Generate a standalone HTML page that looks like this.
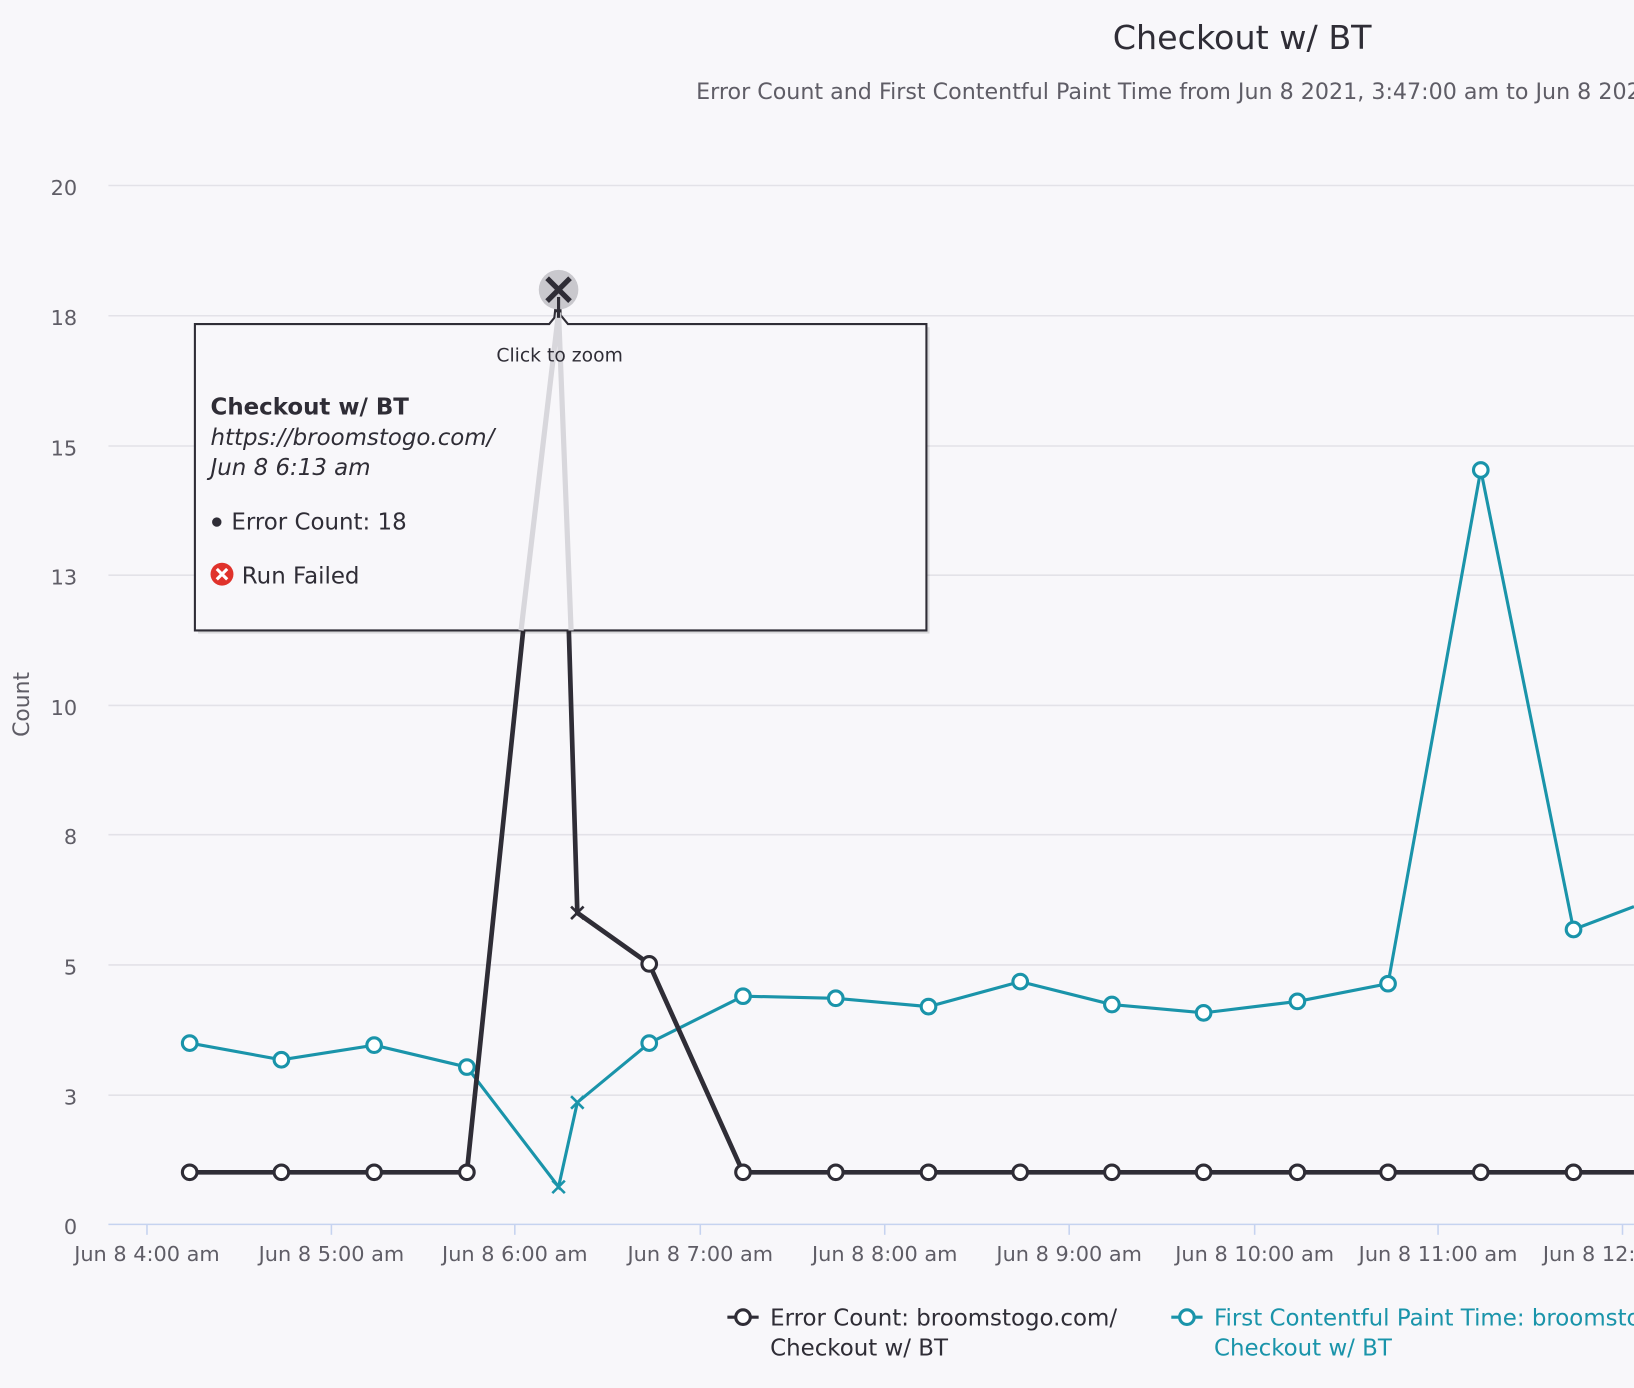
<!DOCTYPE html>
<html><head><meta charset="utf-8"><style>
html,body{margin:0;padding:0;background:#f8f7fa;width:1634px;height:1388px;overflow:hidden}
svg{display:block;font-family:"DejaVu Sans","Liberation Sans",sans-serif}
</style></head><body>
<svg width="1634" height="1388" viewBox="0 0 1568 1332" xmlns="http://www.w3.org/2000/svg">
<rect width="1568" height="1332" fill="#f8f7fa"/>
<text x="1192" y="47" font-size="32" fill="#2f2d36" text-anchor="middle">Checkout w/ BT</text>
<text x="668" y="95" font-size="21" fill="#5f5d66" textLength="920" lengthAdjust="spacingAndGlyphs">Error Count and First Contentful Paint Time from Jun 8 2021, 3:47:00 am to Jun 8 2021</text>
<g stroke="#e3e2e8" stroke-width="1.5">
<line x1="104" y1="178" x2="1568" y2="178"/><line x1="104" y1="303" x2="1568" y2="303"/>
<line x1="104" y1="428" x2="1568" y2="428"/><line x1="104" y1="552" x2="1568" y2="552"/>
<line x1="104" y1="677" x2="1568" y2="677"/><line x1="104" y1="801" x2="1568" y2="801"/>
<line x1="104" y1="926" x2="1568" y2="926"/><line x1="104" y1="1051" x2="1568" y2="1051"/>
</g>
<line x1="104" y1="1175" x2="1568" y2="1175" stroke="#c6d3f0" stroke-width="1.5"/>
<g stroke="#c6d3f0" stroke-width="1.5">
<line x1="141" y1="1175" x2="141" y2="1185"/><line x1="318" y1="1175" x2="318" y2="1185"/>
<line x1="494" y1="1175" x2="494" y2="1185"/><line x1="672" y1="1175" x2="672" y2="1185"/>
<line x1="849" y1="1175" x2="849" y2="1185"/><line x1="1026" y1="1175" x2="1026" y2="1185"/>
<line x1="1204" y1="1175" x2="1204" y2="1185"/><line x1="1380" y1="1175" x2="1380" y2="1185"/>
<line x1="1557" y1="1175" x2="1557" y2="1185"/>
</g>
<g font-size="20" fill="#5f5d66" text-anchor="end">
<text x="74" y="187">20</text><text x="74" y="312">18</text><text x="74" y="437">15</text>
<text x="74" y="561">13</text><text x="74" y="686">10</text><text x="74" y="810">8</text>
<text x="74" y="935">5</text><text x="74" y="1060">3</text><text x="74" y="1184">0</text>
</g>
<text transform="translate(28,676) rotate(-90)" font-size="21" fill="#5f5d66" text-anchor="middle">Count</text>
<g font-size="20" fill="#5f5d66" text-anchor="middle">
<text x="141" y="1210">Jun 8 4:00 am</text><text x="318" y="1210">Jun 8 5:00 am</text>
<text x="494" y="1210">Jun 8 6:00 am</text><text x="672" y="1210">Jun 8 7:00 am</text>
<text x="849" y="1210">Jun 8 8:00 am</text><text x="1026" y="1210">Jun 8 9:00 am</text>
<text x="1204" y="1210">Jun 8 10:00 am</text><text x="1380" y="1210">Jun 8 11:00 am</text>
<text x="1557" y="1210">Jun 8 12:00 pm</text>
</g>
<polyline fill="none" stroke="#1a94aa" stroke-width="3" points="182,1001 270,1017 359,1003 448,1024 536,1139 554,1058 623,1001 713,956 802,958 891,966 979,942 1067,964 1155,972 1245,961 1332,944 1421,451 1510,892 1568,870"/>
<g fill="#fff" stroke="#1a94aa" stroke-width="3">
<circle cx="182" cy="1001" r="7"/><circle cx="270" cy="1017" r="7"/><circle cx="359" cy="1003" r="7"/><circle cx="448" cy="1024" r="7"/>
<circle cx="623" cy="1001" r="7"/><circle cx="713" cy="956" r="7"/><circle cx="802" cy="958" r="7"/><circle cx="891" cy="966" r="7"/>
<circle cx="979" cy="942" r="7"/><circle cx="1067" cy="964" r="7"/><circle cx="1155" cy="972" r="7"/><circle cx="1245" cy="961" r="7"/>
<circle cx="1332" cy="944" r="7"/><circle cx="1421" cy="451" r="7"/><circle cx="1510" cy="892" r="7"/>
</g>
<g stroke="#1a94aa" stroke-width="2.5">
<path d="M530,1133 l12,12 M542,1133 l-12,12"/><path d="M548,1052 l12,12 M560,1052 l-12,12"/>
</g>
<polyline fill="none" stroke="#2f2d36" stroke-width="4.5" points="182,1125 270,1125 359,1125 448,1125 536,278 554,876 623,925 713,1125 802,1125 891,1125 979,1125 1067,1125 1155,1125 1245,1125 1332,1125 1421,1125 1510,1125 1568,1125"/>
<g fill="#fff" stroke="#2f2d36" stroke-width="3">
<circle cx="182" cy="1125" r="7"/><circle cx="270" cy="1125" r="7"/><circle cx="359" cy="1125" r="7"/><circle cx="448" cy="1125" r="7"/>
<circle cx="623" cy="925" r="7"/><circle cx="713" cy="1125" r="7"/><circle cx="802" cy="1125" r="7"/><circle cx="891" cy="1125" r="7"/>
<circle cx="979" cy="1125" r="7"/><circle cx="1067" cy="1125" r="7"/><circle cx="1155" cy="1125" r="7"/><circle cx="1245" cy="1125" r="7"/>
<circle cx="1332" cy="1125" r="7"/><circle cx="1421" cy="1125" r="7"/><circle cx="1510" cy="1125" r="7"/>
</g>
<path d="M548,870 l12,12 M560,870 l-12,12" stroke="#2f2d36" stroke-width="2.5"/>
<rect x="190" y="314" width="702" height="294" fill="#000" opacity="0.12"/>
<path d="M187,311 H527 L536,300 L545,311 H889 V605 H187 Z" fill="#f8f7fa" stroke="#2f2d36" stroke-width="2"/>
<polyline fill="none" stroke="#d8d7dc" stroke-width="5" points="500,605 536,300 548,605"/>
<circle cx="536" cy="278" r="19" fill="#c9c8cd"/>
<path d="M525,267 l22,22 M547,267 l-22,22" stroke="#2f2d36" stroke-width="5"/>
<line x1="536" y1="285" x2="536" y2="305" stroke="#2f2d36" stroke-width="3"/>
<text x="537" y="347" font-size="18" fill="#2f2d36" text-anchor="middle">Click to zoom</text>
<text x="202" y="398" font-size="22" font-weight="bold" fill="#2f2d36">Checkout w/ BT</text>
<text x="202" y="427" font-size="22" font-style="italic" fill="#2f2d36">https://broomstogo.com/</text>
<text x="202" y="456" font-size="22" font-style="italic" fill="#2f2d36">Jun 8 6:13 am</text>
<circle cx="208" cy="501" r="4.5" fill="#2f2d36"/>
<text x="222" y="508" font-size="22" fill="#2f2d36">Error Count: 18</text>
<circle cx="213" cy="551" r="11" fill="#e0322b"/>
<path d="M208,546 l10,10 M218,546 l-10,10" stroke="#fff" stroke-width="3"/>
<text x="232" y="560" font-size="22" fill="#2f2d36">Run Failed</text>
<line x1="698" y1="1264" x2="728" y2="1264" stroke="#2f2d36" stroke-width="3"/>
<circle cx="713" cy="1264" r="7" fill="#fff" stroke="#2f2d36" stroke-width="3"/>
<text x="739" y="1272" font-size="22" fill="#2f2d36">Error Count: broomstogo.com/</text>
<text x="739" y="1301" font-size="22" fill="#2f2d36">Checkout w/ BT</text>
<line x1="1124" y1="1264" x2="1154" y2="1264" stroke="#1a94aa" stroke-width="3"/>
<circle cx="1139" cy="1264" r="7" fill="#fff" stroke="#1a94aa" stroke-width="3"/>
<text x="1165" y="1272" font-size="22" fill="#1a94aa">First Contentful Paint Time: broomstogo.com/</text>
<text x="1165" y="1301" font-size="22" fill="#1a94aa">Checkout w/ BT</text>
</svg>
</body></html>
